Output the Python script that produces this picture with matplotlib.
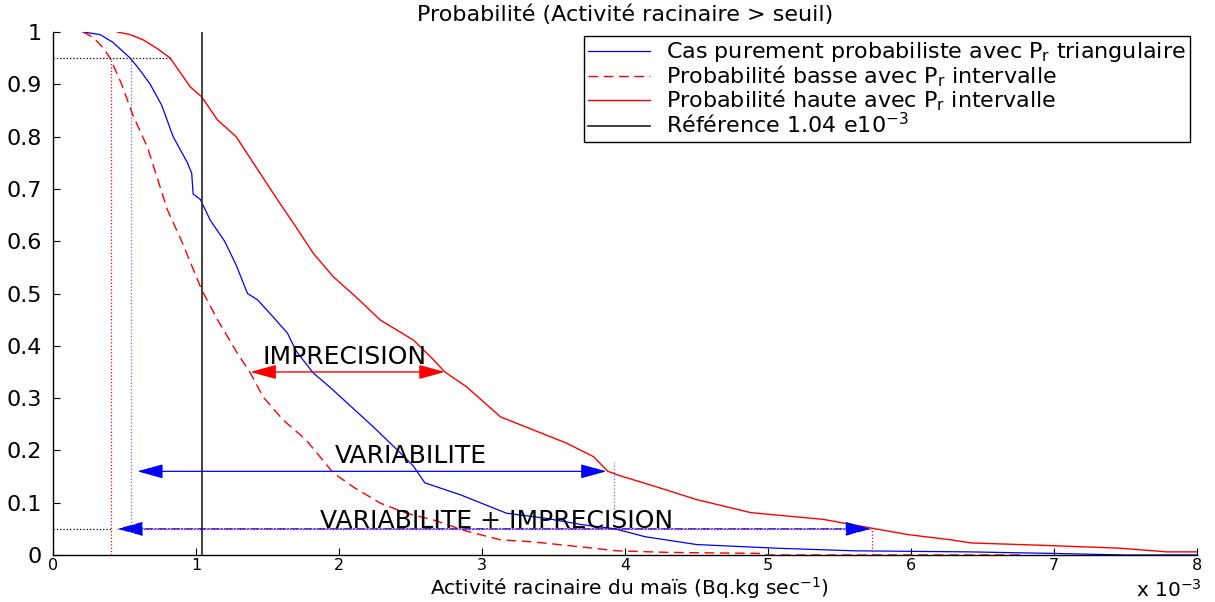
import matplotlib
matplotlib.use("Agg")
import matplotlib.pyplot as plt

plt.rcParams['font.family'] = ['DejaVu Sans']
plt.rcParams['mathtext.fontset'] = 'dejavusans'

# ---- data (x in units of 1e-3 Bq.kg sec^-1) ----
blue_x = [0.21, 0.33, 0.42, 0.50, 0.54, 0.60, 0.68, 0.76, 0.84, 0.94, 0.97, 0.98, 1.03, 1.10, 1.20,
          1.28, 1.36, 1.43, 1.54, 1.64, 1.70, 1.82, 1.94, 2.06, 2.24, 2.43, 2.52, 2.60, 2.85, 3.17,
          3.45, 3.70, 3.93, 4.14, 4.50, 5.06, 5.60, 6.40, 7.00, 7.50, 8.00]
blue_p = [1.00, 0.995, 0.98, 0.96, 0.95, 0.93, 0.90, 0.86, 0.80, 0.75, 0.73, 0.69, 0.68, 0.64, 0.60,
          0.555, 0.50, 0.488, 0.455, 0.424, 0.39, 0.348, 0.32, 0.29, 0.245, 0.195, 0.17, 0.138, 0.115, 0.08,
          0.07, 0.058, 0.05, 0.035, 0.02, 0.013, 0.008, 0.006, 0.003, 0.0, 0.0]

low_x = [0.21, 0.28, 0.35, 0.40, 0.48, 0.56, 0.66, 0.80, 0.90, 1.04, 1.15, 1.28, 1.38, 1.47,
         1.61, 1.77, 1.96, 2.10, 2.29, 2.47, 2.66, 2.90, 3.13, 3.36, 3.71, 3.94, 4.30, 4.94,
         5.00, 6.80]
low_p = [1.00, 0.99, 0.97, 0.95, 0.90, 0.84, 0.78, 0.66, 0.60, 0.507, 0.45, 0.39, 0.348, 0.302,
         0.258, 0.22, 0.157, 0.13, 0.099, 0.08, 0.067, 0.045, 0.029, 0.025, 0.015, 0.008, 0.005, 0.003,
         0.0, 0.0]

high_x = [0.45, 0.54, 0.63, 0.72, 0.82, 0.96, 1.04, 1.15, 1.28, 1.40, 1.52, 1.58, 1.68, 1.82,
          1.96, 2.12, 2.29, 2.52, 2.64, 2.74, 2.89, 3.13, 3.36, 3.59, 3.78, 3.88, 3.96, 4.20,
          4.50, 4.88, 5.39, 5.71, 5.98, 6.28, 6.42, 6.87, 7.46, 7.79, 8.00]
high_p = [1.00, 0.995, 0.985, 0.97, 0.95, 0.895, 0.876, 0.832, 0.80, 0.75, 0.70, 0.675, 0.635, 0.577,
          0.532, 0.493, 0.449, 0.411, 0.379, 0.35, 0.322, 0.264, 0.239, 0.214, 0.188, 0.16, 0.152, 0.132,
          0.106, 0.081, 0.068, 0.052, 0.039, 0.029, 0.023, 0.019, 0.013, 0.006, 0.006]

reference = 1.04
q95_low, q95_blue = 0.405, 0.545
q05_blue, q05_high = 3.92, 5.73
q95_high = 0.82
impr_level, impr_x = 0.35, (1.38, 2.74)
var_level, var_x = 0.16, (0.59, 3.87)
vi_level, vi_x = 0.05, (0.45, 5.72)

xticks = [0, 1, 2, 3, 4, 5, 6, 7, 8]
yticks = [0, 0.1, 0.2, 0.3, 0.4, 0.5, 0.6, 0.7, 0.8, 0.9, 1]
yticklabels = ['0', '0.1', '0.2', '0.3', '0.4', '0.5', '0.6', '0.7', '0.8', '0.9', '1']

legend_labels = ['Cas purement probabiliste avec P$_\\mathregular{r}$ triangulaire',
                 'Probabilité basse avec P$_\\mathregular{r}$ intervalle',
                 'Probabilité haute avec P$_\\mathregular{r}$ intervalle',
                 'Référence 1.04 e10$^{-3}$']

FS = 16
FS_ANN = 18

fig = plt.figure(figsize=(12.15, 6.02), dpi=100)
ax = fig.add_axes([53/1215, 47/602, 1144/1215, 523/602])

l1, = ax.plot(blue_x, blue_p, color='blue', lw=0.9)
l2, = ax.plot(low_x, low_p, color='red', lw=1.0, ls=(0, (7, 4)))
l3, = ax.plot(high_x, high_p, color='red', lw=1.0)
l4 = ax.axvline(reference, color='#333333', lw=1.3)

# dotted guide lines
ax.plot([0, q95_high], [0.95, 0.95], color='black', ls=':', lw=0.9)
ax.plot([0, q95_low], [0.05, 0.05], color='black', ls=':', lw=0.9)
ax.plot([q95_low, q95_low], [0, 0.95], color='red', ls=':', lw=0.9)
ax.plot([q95_blue, q95_blue], [0.05, 0.95], color='blue', ls=':', lw=0.9, alpha=0.6)
ax.plot([q05_blue, q05_blue], [0.05, 0.178], color='blue', ls=':', lw=0.9, alpha=0.6)
ax.plot([q05_high, q05_high], [0, 0.05], color='red', ls=':', lw=0.9)

arrow_style = '<|-|>,head_length=0.8,head_width=0.22'

ax.annotate('', xy=(impr_x[0], impr_level), xytext=(impr_x[1], impr_level),
            arrowprops=dict(arrowstyle=arrow_style, color='red', lw=1.0, mutation_scale=20,
                            shrinkA=0, shrinkB=0))
ax.text(2.04, impr_level + 0.006, 'IMPRECISION', ha='center', va='bottom', fontsize=FS_ANN)

ax.annotate('', xy=(var_x[0], var_level), xytext=(var_x[1], var_level),
            arrowprops=dict(arrowstyle=arrow_style, color='blue', lw=0.9, mutation_scale=20,
                            shrinkA=0, shrinkB=0))
ax.text(2.5, var_level + 0.006, 'VARIABILITE', ha='center', va='bottom', fontsize=FS_ANN)

ax.annotate('', xy=(vi_x[0], vi_level), xytext=(vi_x[1], vi_level),
            arrowprops=dict(arrowstyle=arrow_style, color='blue', lw=0.9, ls='-.', mutation_scale=20,
                            shrinkA=0, shrinkB=0))
ax.plot([vi_x[0], vi_x[1]], [vi_level, vi_level], color='red', ls=':', lw=0.9)
ax.text(3.1, vi_level - 0.008, 'VARIABILITE + IMPRECISION', ha='center', va='bottom', fontsize=FS_ANN)

ax.set_xlim(0, 8)
ax.set_ylim(0, 1)
ax.set_xticks(xticks)
ax.set_xticklabels([str(t) for t in xticks])
ax.set_yticks(yticks)
ax.set_yticklabels(yticklabels)
ax.tick_params(direction='in', length=5)
ax.tick_params(axis='x', labelsize=11.5, pad=2)
ax.tick_params(axis='y', labelsize=16, pad=8)
for s in ['top', 'right']:
    ax.spines[s].set_visible(False)
for s in ['left', 'bottom']:
    ax.spines[s].set_linewidth(1.0)

ax.text(0.5, (555 - 15) / 523, 'Probabilité (Activité racinaire > seuil)', transform=ax.transAxes,
        ha='center', va='center', fontsize=FS)
ax.text((630 - 53) / 1144, (555 - 601) / 523, 'Activité racinaire du maïs (Bq.kg sec$^{-1}$)',
        transform=ax.transAxes, ha='center', va='bottom', fontsize=14.5)
ax.text((1202 - 53) / 1144, (555 - 601) / 523, 'x 10$^{-3}$', transform=ax.transAxes,
        ha='right', va='bottom', fontsize=14.5)

leg = ax.legend([l1, l2, l3, l4], legend_labels, loc='upper right',
                bbox_to_anchor=(1190 / 1215, (602 - 36) / 602), bbox_transform=fig.transFigure,
                fontsize=FS, frameon=True, fancybox=False, edgecolor='black', framealpha=1,
                handlelength=2.8, borderpad=0.2, labelspacing=-0.05, handletextpad=0.7,
                borderaxespad=0)
leg.get_frame().set_linewidth(1.0)

fig.savefig('out.png', dpi=100)
